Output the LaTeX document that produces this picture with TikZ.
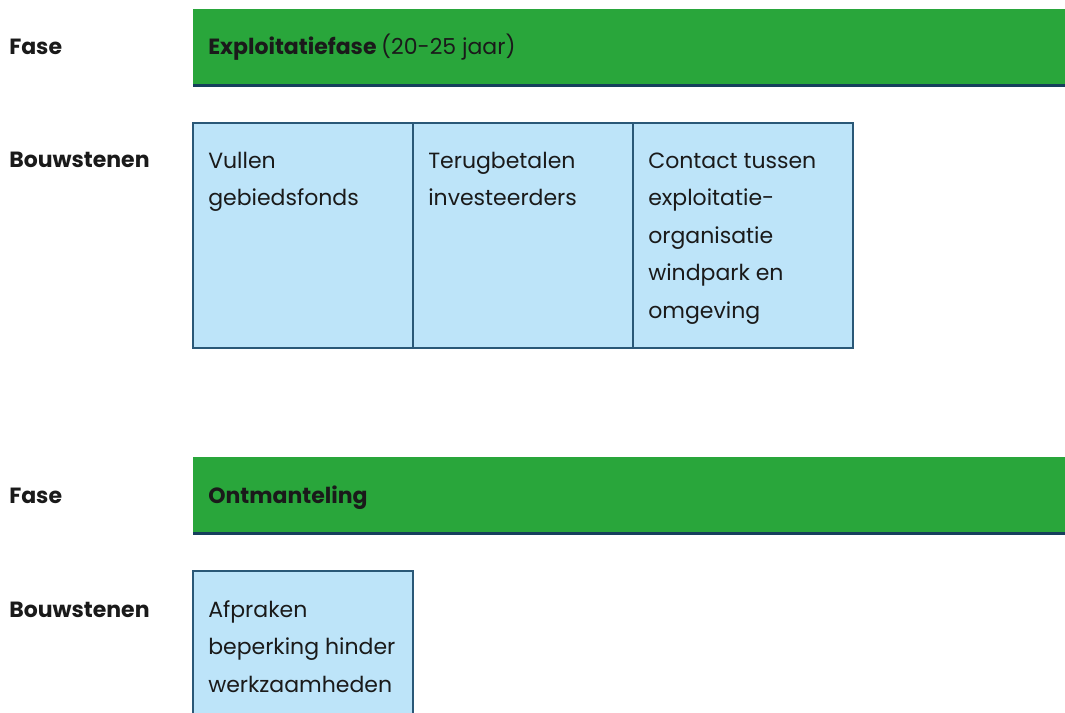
\documentclass[tikz,border=0pt]{standalone}
\usepackage{fontspec}
\setmainfont{Poppins}
\definecolor{fasegreen}{HTML}{29A63B}
\definecolor{navyline}{HTML}{163F5C}
\definecolor{boxblue}{HTML}{BDE4F9}
\definecolor{boxborder}{HTML}{2A5877}
\definecolor{txt}{HTML}{1A1A1A}
\tikzset{
  bar/.style={fill=fasegreen, draw=none},
  barline/.style={draw=navyline, line width=2.25pt},
  blok/.style={fill=boxblue, draw=boxborder, line width=1pt},
  lbl/.style={anchor=base west, inner sep=0pt, font=\fontsize{16.5pt}{20pt}\selectfont\bfseries, text=txt},
  btxt/.style={anchor=north west, inner sep=0pt, align=left, font=\fontsize{16.5pt}{28.125pt}\selectfont, text=txt},
}
\begin{document}
\begin{tikzpicture}[x=0.75pt,y=-0.75pt]
\useasboundingbox (0,0) rectangle (1065,713);
% phase 1
\fill[bar] (193,9) rectangle (1065,84);
\draw[barline] (193,85.5) -- (1065,85.5);
\node[lbl] (fase1) at (9,55) {Fase};
\node[lbl] (titel1) at (208,55) {Exploitatiefase \mdseries(20-25 jaar)};
\node[lbl] (bouw1) at (9,168) {Bouwstenen};
\draw[blok] (193,123) rectangle (413,348);
\draw[blok] (413,123) rectangle (633,348);
\draw[blok] (633,123) rectangle (853,348);
\node[btxt] (b11) at (208,141.75) {\strut Vullen\\gebiedsfonds};
\node[btxt] (b12) at (428,141.75) {\strut Terugbetalen\\investeerders};
\node[btxt] (b13) at (648,141.75) {\strut Contact tussen\\exploitatie-\\organisatie\\windpark en\\omgeving};
% phase 2
\fill[bar] (193,457) rectangle (1065,532);
\draw[barline] (193,533.5) -- (1065,533.5);
\node[lbl] (fase2) at (9,503) {Fase};
\node[lbl] (titel2) at (208,503) {Ontmanteling};
\node[lbl] (bouw2) at (9,617) {Bouwstenen};
\draw[blok] (193,571) rectangle (413,720);
\node[btxt] (b21) at (208,590.75) {\strut Afpraken\\beperking hinder\\werkzaamheden};
\end{tikzpicture}
\end{document}
